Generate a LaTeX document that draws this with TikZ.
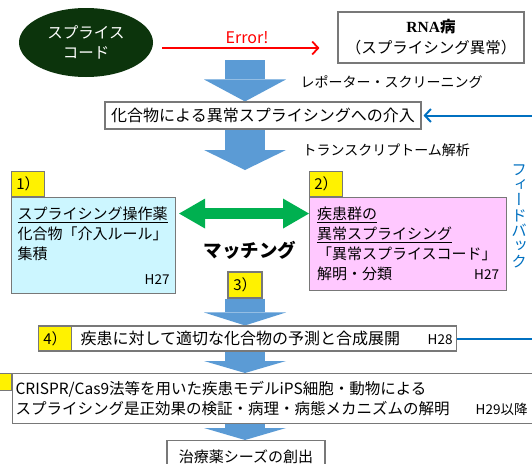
\documentclass[tikz,border=0pt]{standalone}
\usepackage{fontspec}
\setmainfont{Noto Sans CJK JP}
\newfontfamily\rnafont{Liberation Serif}
\newfontfamily\tatefont[RawFeature=+vert]{Noto Sans CJK JP}
\usetikzlibrary{arrows.meta,shapes.geometric,backgrounds}
\definecolor{splgreen}{RGB}{12,52,12}
\definecolor{flowblue}{RGB}{91,155,213}
\definecolor{fbblue}{RGB}{0,112,192}
\definecolor{matchgreen}{RGB}{0,176,80}
\definecolor{opscyan}{RGB}{204,246,255}
\definecolor{dispink}{RGB}{255,200,255}
\definecolor{boxgray}{RGB}{120,120,120}
\definecolor{errred}{RGB}{255,0,0}
\begin{document}
\begin{tikzpicture}[x=1pt,y=1pt,
  box/.style={rectangle, draw=boxgray, line width=1.1pt, fill=white},
  tag/.style={rectangle, draw=boxgray, line width=1.1pt, fill=yellow, minimum width=33, minimum height=25, inner sep=0pt, font=\fontsize{15}{18}\selectfont},
  txt/.style={font=\fontsize{15}{20}\selectfont},
  yr/.style={font=\fontsize{13.5}{15}\selectfont},
  flow/.style={draw=flowblue, line width=40pt, -{Triangle[width=82pt,length=#1,line width=0pt]}},
  match/.style={draw=matchgreen, line width=11pt, {Triangle[width=30pt,length=26pt,line width=0pt]}-{Triangle[width=30pt,length=26pt,line width=0pt]}},
  errline/.style={draw=errred, line width=1.8pt, -{Straight Barb[length=6pt,width=13pt]}},
  fb/.style={draw=fbblue, line width=2pt, -{Straight Barb[length=6pt,width=13pt]}},
]
\useasboundingbox (0,0) rectangle (532,-463);

\node[ellipse, fill=splgreen, minimum width=134, minimum height=69, inner sep=0pt, text=white, align=center, font=\fontsize{15.5}{20}\selectfont] (code) at (86,-42.5) {スプライス\\コード};
\node[box, minimum width=186, minimum height=51, align=center, font=\fontsize{15.5}{21}\selectfont] (rna) at (431,-37.5) {{\rnafont\bfseries RNA}\textbf{病}\\（スプライシング異常）};
\draw[errline] ([xshift=9,yshift=-5.5]code.east) -- node[pos=0.54, above, text=errred, font=\fontsize{16}{18}\selectfont] (err) {Error!} ([xshift=-18,yshift=-10.5]rna.west);

\coordinate (axis) at (245,0);
\node[box, minimum width=316, minimum height=27, font=\fontsize{16}{18}\selectfont] (intro) at (263,-115.5) {化合物による異常スプライシングへの介入};
\node[anchor=west, font=\fontsize{14}{16}\selectfont] (screen) at (297,-82) {レポーター・スクリーニング};
\node[anchor=west, font=\fontsize{14}{16}\selectfont] (trans) at (299,-150) {トランスクリプトーム解析};

\node[box, fill=opscyan, anchor=north west, minimum width=164, minimum height=96, text width=152, inner xsep=6, align=left, txt] (ops) at (11,-197) {\underline{スプライシング操作薬}\\化合物「介入ルール」\\集積\\[5pt]\mbox{}\hfill{\fontsize{13.5}{15}\selectfont H27}};
\node[tag, anchor=south west] (t1) at (ops.north west) {1）};

\node[box, fill=dispink, anchor=north west, minimum width=197, minimum height=93, text width=182, inner xsep=7.5, align=left, txt] (dis) at (309,-197) {\underline{疾患群の}\\\underline{異常スプライシング}\\「異常スプライスコード」\\解明・分類\hfill{\fontsize{13.5}{15}\selectfont H27}};
\node[tag, anchor=south west] (t2) at (dis.north west) {2）};

\draw[match] ([xshift=3,yshift=32]ops.east) -- ([yshift=30.5]dis.west);
\node[font=\bfseries\fontsize{18.5}{20}\selectfont] (matching) at (250,-250) {マッチング};

\node[tag, minimum width=34, minimum height=26] (t3) at (245,-285) {3）};

\node[box, anchor=west, minimum height=25, text width=410, inner xsep=4, align=left, font=\fontsize{16}{18}\selectfont] (pred) at (38,-338.5) {\hspace*{38pt}疾患に対して適切な化合物の予測と合成展開\hfill{\fontsize{13.5}{15}\selectfont H28}};
\node[tag, anchor=west] (t4) at (pred.west) {4）};

\node[box, anchor=north west, minimum height=50, text width=518, inner xsep=3, align=left, font=\fontsize{15.5}{20}\selectfont] (model) at (12,-373) {CRISPR/Cas9法等を用いた疾患モデルiPS細胞・動物による\\スプライシング是正効果の検証・病理・病態メカニズムの解明\hfill{\fontsize{13.5}{15}\selectfont H29以降}\hspace*{6pt}\mbox{}};
\node[tag, anchor=north east, minimum height=17] (t5) at (model.north west) {};

\node[box, anchor=north, minimum width=158, minimum height=32, txt] (cure) at (246,-440) {治療薬シーズの創出};

\node[text=fbblue, align=center, font=\tatefont\fontsize{15.5}{15.3}\selectfont] (fbtext) at (519,-216) {フ\\ィ\\ー\\ド\\バ\\ッ\\ク};
\draw[fb] (pred.east) -- ++(84,0) |- ([xshift=2]intro.east);

\begin{scope}[on background layer]
\draw[flow=22] (axis |- 0,-60) -- (axis |- intro.north);
\draw[flow=20] (axis |- intro.south) -- (axis |- 0,-170);
\draw[flow=13] (t3.south) -- (axis |- pred.north);
\draw[flow=12] (axis |- pred.south) -- (axis |- model.north);
\draw[flow=12] (axis |- model.south) -- (axis |- cure.north);
\end{scope}
\end{tikzpicture}
\end{document}
